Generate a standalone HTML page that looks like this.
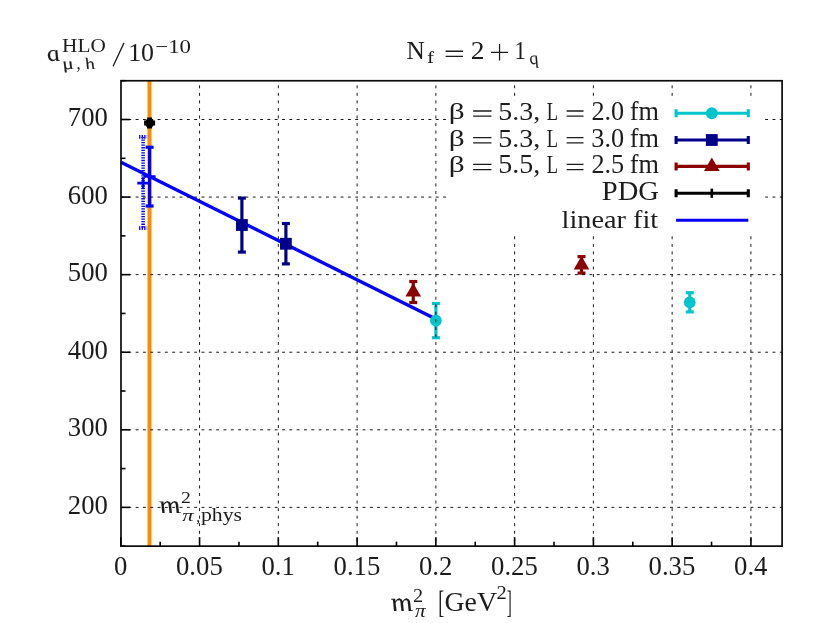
<!DOCTYPE html>
<html><head><meta charset="utf-8"><title>plot</title>
<style>html,body{margin:0;padding:0;background:#fff;}svg{display:block;}text{font-family:"Liberation Serif", serif;fill:#1c1c1c;}.s{font-family:"Liberation Sans", sans-serif;}.i{font-style:italic;}</style></head><body>
<svg width="831" height="623" viewBox="0 0 831 623">
<rect x="0" y="0" width="831" height="623" fill="#fff"/>
<path d="M149.5 80.75V546.15" stroke="#ff8c00" stroke-width="4" fill="none"/>
<path d="M121.00 162.2L435.75 319" stroke="#0000ff" stroke-width="3.4" fill="none"/>
<g stroke="#00c5cd" stroke-width="3.2" fill="none"><path d="M435.90 303.50V337.70"/><path d="M431.90 303.50H439.90"/><path d="M431.90 337.70H439.90"/></g>
<circle cx="435.90" cy="320.60" r="5.90" fill="#00c5cd"/>
<g stroke="#00c5cd" stroke-width="3.2" fill="none"><path d="M689.75 292.75V311.90"/><path d="M685.75 292.75H693.75"/><path d="M685.75 311.90H693.75"/></g>
<circle cx="689.75" cy="302.40" r="5.90" fill="#00c5cd"/>
<g stroke="#00008b" stroke-width="3.2" fill="none"><path d="M241.90 198.10V252.10"/><path d="M237.90 198.10H245.90"/><path d="M237.90 252.10H245.90"/></g>
<rect x="236.00" y="219.10" width="11.80" height="11.80" fill="#00008b"/>
<g stroke="#00008b" stroke-width="3.2" fill="none"><path d="M285.90 223.50V263.90"/><path d="M281.90 223.50H289.90"/><path d="M281.90 263.90H289.90"/></g>
<rect x="280.00" y="237.85" width="11.80" height="11.80" fill="#00008b"/>
<g stroke="#8b0000" stroke-width="3.2" fill="none"><path d="M413.25 281.50V302.50"/><path d="M409.25 281.50H417.25"/><path d="M409.25 302.50H417.25"/></g>
<path d="M413.25 282.99L421.05 296.50L405.45 296.50Z" fill="#8b0000"/>
<g stroke="#8b0000" stroke-width="3.2" fill="none"><path d="M581.50 256.60V273.10"/><path d="M577.50 256.60H585.50"/><path d="M577.50 273.10H585.50"/></g>
<path d="M581.50 255.89L589.30 269.40L573.70 269.40Z" fill="#8b0000"/>
<g stroke="#0000ff" stroke-width="3.6" fill="none" stroke-dasharray="1.3 1.25"><path d="M143.10 136.90V228.10"/><path d="M139.10 136.90H147.10"/><path d="M139.10 228.10H147.10"/></g>
<path d="M137.3 183.1H148.9M143.1 177.3V188.9" stroke="#0000ff" stroke-width="2.6" fill="none"/>
<g stroke="#0000ff" stroke-width="3.2" fill="none"><path d="M149.60 147.25V206.00"/><path d="M145.60 147.25H153.60"/><path d="M145.60 206.00H153.60"/></g>
<path d="M143.6 176.5H155.6M149.6 170.5V182.5" stroke="#0000ff" stroke-width="2.6" fill="none"/>
<path d="M144.1 122.9H155.1M149.6 117.4V128.4" stroke="#000" stroke-width="5" fill="none"/>
<circle cx="149.6" cy="122.9" r="4.6" fill="#000"/>
<g stroke="#000" stroke-width="1" fill="none" opacity="0.9"><path stroke-dasharray="3 4.55" d="M199.56 541.3V80.75"/><path stroke-dasharray="3 4.55" d="M278.33 541.3V80.75"/><path stroke-dasharray="3 4.55" d="M357.10 541.3V80.75"/><path stroke-dasharray="3 4.55" d="M435.86 541.3V80.75"/><path stroke-dasharray="3 4.55" d="M514.62 541.3V80.75"/><path stroke-dasharray="3 4.55" d="M593.39 541.3V80.75"/><path stroke-dasharray="3 4.55" d="M672.15 541.3V80.75"/><path stroke-dasharray="3 4.55" d="M750.92 541.3V80.75"/><path stroke-dasharray="2.9 4.42" d="M121 507.37H782.10"/><path stroke-dasharray="2.9 4.42" d="M121 429.79H782.10"/><path stroke-dasharray="2.9 4.42" d="M121 352.23H782.10"/><path stroke-dasharray="2.9 4.42" d="M121 274.65H782.10"/><path stroke-dasharray="2.9 4.42" d="M121 197.08H782.10"/><path stroke-dasharray="2.9 4.42" d="M121 119.51H782.10"/></g>
<rect x="446.5" y="100.3" width="315.5" height="135.2" fill="#fff"/>
<g stroke="#00c5cd" stroke-width="3.1" fill="none"><path d="M676.10 113.25H748.30"/><path d="M676.10 109.25V117.25M748.30 109.25V117.25"/></g>
<circle cx="711.80" cy="113.25" r="5.90" fill="#00c5cd"/>
<g stroke="#00008b" stroke-width="3.1" fill="none"><path d="M676.10 140.00H748.30"/><path d="M676.10 136.00V144.00M748.30 136.00V144.00"/></g>
<rect x="705.90" y="134.10" width="11.80" height="11.80" fill="#00008b"/>
<g stroke="#8b0000" stroke-width="3.1" fill="none"><path d="M676.10 166.40H748.30"/><path d="M676.10 162.40V170.40M748.30 162.40V170.40"/></g>
<path d="M711.80 157.39L719.60 170.90L704.00 170.90Z" fill="#8b0000"/>
<g stroke="#000" stroke-width="3.1" fill="none"><path d="M676.10 193.25H748.30"/><path d="M676.10 189.25V197.25M748.30 189.25V197.25"/></g>
<path d="M711.80 188.65V197.85" stroke="#000" stroke-width="2.6"/>
<path d="M676.10 220.30H748.30" stroke="#0000ff" stroke-width="3" fill="none"/>
<rect x="121.00" y="80.75" width="661.10" height="465.40" fill="none" stroke="#0a0a0a" stroke-width="1.7"/>
<g stroke="#000" stroke-width="1.6" fill="none"><path d="M120.80 546.15V537.15"/><path d="M160.18 546.15V541.65"/><path d="M199.56 546.15V537.15"/><path d="M238.95 546.15V541.65"/><path d="M278.33 546.15V537.15"/><path d="M317.71 546.15V541.65"/><path d="M357.10 546.15V537.15"/><path d="M396.48 546.15V541.65"/><path d="M435.86 546.15V537.15"/><path d="M475.24 546.15V541.65"/><path d="M514.62 546.15V537.15"/><path d="M554.01 546.15V541.65"/><path d="M593.39 546.15V537.15"/><path d="M632.77 546.15V541.65"/><path d="M672.15 546.15V537.15"/><path d="M711.54 546.15V541.65"/><path d="M750.92 546.15V537.15"/><path d="M121.00 546.15H125.50"/><path d="M121.00 507.37H130.00"/><path d="M121.00 468.58H125.50"/><path d="M121.00 429.79H130.00"/><path d="M121.00 391.01H125.50"/><path d="M121.00 352.23H130.00"/><path d="M121.00 313.44H125.50"/><path d="M121.00 274.65H130.00"/><path d="M121.00 235.87H125.50"/><path d="M121.00 197.08H130.00"/><path d="M121.00 158.30H125.50"/><path d="M121.00 119.51H130.00"/><path d="M121.00 80.73H125.50"/></g>
<g style="filter:grayscale(1)">
<text x="107.9" y="514.01" font-size="26.7" text-anchor="end">200</text>
<text x="107.9" y="436.44" font-size="26.7" text-anchor="end">300</text>
<text x="107.9" y="358.88" font-size="26.7" text-anchor="end">400</text>
<text x="107.9" y="281.30" font-size="26.7" text-anchor="end">500</text>
<text x="107.9" y="203.73" font-size="26.7" text-anchor="end">600</text>
<text x="107.9" y="126.16" font-size="26.7" text-anchor="end">700</text>
<text x="120.60" y="575.3" font-size="26.7" text-anchor="middle">0</text>
<text x="199.37" y="575.3" font-size="26.7" text-anchor="middle">0.05</text>
<text x="278.13" y="575.3" font-size="26.7" text-anchor="middle">0.1</text>
<text x="356.90" y="575.3" font-size="26.7" text-anchor="middle">0.15</text>
<text x="435.66" y="575.3" font-size="26.7" text-anchor="middle">0.2</text>
<text x="514.42" y="575.3" font-size="26.7" text-anchor="middle">0.25</text>
<text x="593.19" y="575.3" font-size="26.7" text-anchor="middle">0.3</text>
<text x="671.95" y="575.3" font-size="26.7" text-anchor="middle">0.35</text>
<text x="750.72" y="575.3" font-size="26.7" text-anchor="middle">0.4</text>
<path d="M113.1 66.2L124.0 42.9" stroke="#1c1c1c" stroke-width="1.3" fill="none"/>
<path d="M491 52.3H508.1M499.55 44V60.5" stroke="#1c1c1c" stroke-width="1.25" fill="none"/>
<path d="M445.60 51.20H463.00M445.60 56.40H463.00" stroke="#1c1c1c" stroke-width="1.35" fill="none"/>
<path d="M473.10 110.95H491.50M473.10 116.15H491.50" stroke="#1c1c1c" stroke-width="1.35" fill="none"/>
<path d="M566.60 110.95H583.50M566.60 116.15H583.50" stroke="#1c1c1c" stroke-width="1.35" fill="none"/>
<path d="M473.10 137.65H491.50M473.10 142.85H491.50" stroke="#1c1c1c" stroke-width="1.35" fill="none"/>
<path d="M566.60 137.65H583.50M566.60 142.85H583.50" stroke="#1c1c1c" stroke-width="1.35" fill="none"/>
<path d="M473.10 164.35H491.50M473.10 169.55H491.50" stroke="#1c1c1c" stroke-width="1.35" fill="none"/>
<path d="M566.60 164.35H583.50M566.60 169.55H583.50" stroke="#1c1c1c" stroke-width="1.35" fill="none"/>
<text class="i" stroke="#1c1c1c" stroke-width="0.1" font-size="26" transform="matrix(1.0062 0 0.2717 0.8974 48.55 60.97)">a</text>
<text font-size="18.5" transform="matrix(1.1492 0 0.0000 1.0690 62.06 52.30)">HLO</text>
<text class="i" stroke="#1c1c1c" stroke-width="0.12" font-size="18" transform="matrix(1.2032 0 0.3249 0.9218 63.81 68.63)">μ</text>
<text font-size="17" transform="matrix(0.9804 0 0.0000 1.1534 76.47 68.91)">,</text>
<text class="i" stroke="#1c1c1c" stroke-width="0.12" font-size="18" transform="matrix(1.0805 0 0.2917 0.9033 86.45 68.60)">h</text>
<text font-size="26.7" transform="matrix(0.9716 0 0.0000 0.9377 128.13 60.75)">10</text>
<text font-size="19" transform="matrix(1.2025 0 0.0000 1.0214 155.26 52.71)">−10</text>
<text font-size="25" transform="matrix(1.0149 0 0.0000 0.9954 406.54 58.90)">N</text>
<text stroke="#1c1c1c" stroke-width="0.12" font-size="18" transform="matrix(1.1019 0 0.0000 0.9603 427.20 63.20)">f</text>
<text font-size="26.7" transform="matrix(1.0300 0 0.0000 0.9441 470.76 59.30)">2</text>
<text font-size="26.7" transform="matrix(0.8500 0 0.0000 0.9363 514.51 59.10)">1</text>
<text class="i" stroke="#1c1c1c" stroke-width="0.1" font-size="19" transform="matrix(0.9415 0 0.2542 0.9562 530.60 63.74)">q</text>
<text font-size="25" transform="matrix(1.2522 0 0.0000 0.9337 448.67 119.04)">β</text>
<text font-size="26.7" transform="matrix(1.0476 0 0.0000 0.9788 498.19 120.01)">5.3,</text>
<text font-size="25" transform="matrix(0.7385 0 0.0000 1.0198 546.85 119.80)">L</text>
<text font-size="26.7" transform="matrix(0.9816 0 0.0000 0.9969 591.42 119.90)">2.0</text>
<text font-size="26.7" transform="matrix(0.9847 0 0.0000 0.9845 629.81 119.90)">fm</text>
<text font-size="25" transform="matrix(1.2522 0 0.0000 0.9337 448.67 145.74)">β</text>
<text font-size="26.7" transform="matrix(1.0476 0 0.0000 0.9788 498.19 146.71)">5.3,</text>
<text font-size="25" transform="matrix(0.7385 0 0.0000 1.0198 546.85 146.50)">L</text>
<text font-size="26.7" transform="matrix(0.9837 0 0.0000 0.9969 591.35 146.60)">3.0</text>
<text font-size="26.7" transform="matrix(0.9847 0 0.0000 0.9845 629.81 146.60)">fm</text>
<text font-size="25" transform="matrix(1.2522 0 0.0000 0.9337 448.67 172.44)">β</text>
<text font-size="26.7" transform="matrix(1.0476 0 0.0000 0.9879 498.19 173.38)">5.5,</text>
<text font-size="25" transform="matrix(0.7385 0 0.0000 1.0198 546.85 173.20)">L</text>
<text font-size="26.7" transform="matrix(0.9837 0 0.0000 1.0006 591.42 173.30)">2.5</text>
<text font-size="26.7" transform="matrix(0.9847 0 0.0000 0.9845 629.81 173.30)">fm</text>
<text font-size="26.7" transform="matrix(1.0715 0 0.0000 1.0192 601.74 200.33)">PDG</text>
<text font-size="26.7" transform="matrix(1.0606 0 0.0000 0.9812 561.53 227.64)">linear fit</text>
<text class="i" stroke="#1c1c1c" stroke-width="0.1" font-size="26" transform="matrix(1.1396 0 0.3077 1.0229 392.90 610.90)">m</text>
<text font-size="18.5" transform="matrix(1.0946 0 0.0000 0.9709 412.99 601.50)">2</text>
<text class="i" font-size="19" transform="matrix(1.1187 0 0.0000 0.9742 414.89 617.21)">π</text>
<text font-size="27" transform="matrix(0.6658 0 0.0000 1.2048 438.25 613.41)">[</text>
<text font-size="26.7" transform="matrix(1.0416 0 0.0000 1.0614 444.49 611.27)">GeV</text>
<text font-size="18.5" transform="matrix(1.1081 0 0.0000 0.9628 496.58 599.40)">2</text>
<text font-size="27" transform="matrix(0.5597 0 0.0000 1.2048 506.67 613.41)">]</text>
<text class="i" stroke="#1c1c1c" stroke-width="0.1" font-size="26" transform="matrix(1.1241 0 0.3035 0.9656 161.17 512.70)">m</text>
<text font-size="18.5" transform="matrix(1.0676 0 0.0000 0.9220 181.01 502.80)">2</text>
<text class="i" font-size="19" transform="matrix(1.2001 0 0.0000 0.8847 182.29 520.83)">π</text>
<text font-size="18" transform="matrix(0.8889 0 0.0000 0.9804 196.20 521.61)">,</text>
<text font-size="19.5" transform="matrix(1.1163 0 0.0000 0.9467 200.97 520.93)">phys</text>
</g>
</svg></body></html>
